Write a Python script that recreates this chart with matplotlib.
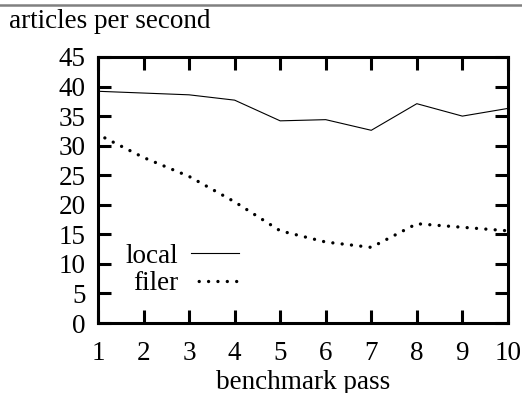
import matplotlib
matplotlib.use("Agg")
import matplotlib.pyplot as plt
from matplotlib.lines import Line2D

# benchmark passes and measured throughput
passes = [1, 2, 3, 4, 5, 6, 7, 8, 9, 10]
local = [39.2, 38.9, 38.6, 37.7, 34.2, 34.4, 32.6, 37.1, 35.0, 36.3]
filer = [31.9, 28.0, 24.8, 20.5, 15.6, 13.7, 12.8, 16.8, 16.2, 15.6]

plt.rcParams['font.family'] = ['Liberation Serif', 'DejaVu Serif']
plt.rcParams['font.size'] = 19.5

fig = plt.figure(figsize=(5.22, 3.93), dpi=100)
ax = fig.add_axes([0.1877, 0.178, 0.973 - 0.1877, 0.855 - 0.178])

ax.plot(passes, local, color='black', lw=0.8, label='local')
ax.plot(passes, filer, color='black', lw=2.4, linestyle=(0.5, (0.01, 2.8)),
        dash_capstyle='round', label='filer')

ax.set_xlim(1, 10)
ax.set_ylim(0, 45)
ax.set_xticks(passes)
ax.set_yticks(range(0, 46, 5))

for s in ax.spines.values():
    s.set_linewidth(2.2)
ax.tick_params(direction='in', length=9.5, width=2.2, top=True, right=True,
               labelsize=19.5, colors='black')
ax.tick_params(axis='x', pad=13)
ax.tick_params(axis='y', pad=9)

ax.set_xlabel('benchmark pass', labelpad=3)
fig.text(0.018, 0.945, 'articles per second', ha='left', va='center')

ax.legend(loc='lower left', bbox_to_anchor=(0.04, 0.06), frameon=False,
          markerfirst=False, handlelength=1.75, handletextpad=0.5,
          labelspacing=0.1, borderaxespad=0)

# thin grey rule across the top
fig.add_artist(Line2D([0, 1], [0.987, 0.987], color='#808080', lw=1.8,
                      transform=fig.transFigure))

fig.savefig('out.png', dpi=100)
